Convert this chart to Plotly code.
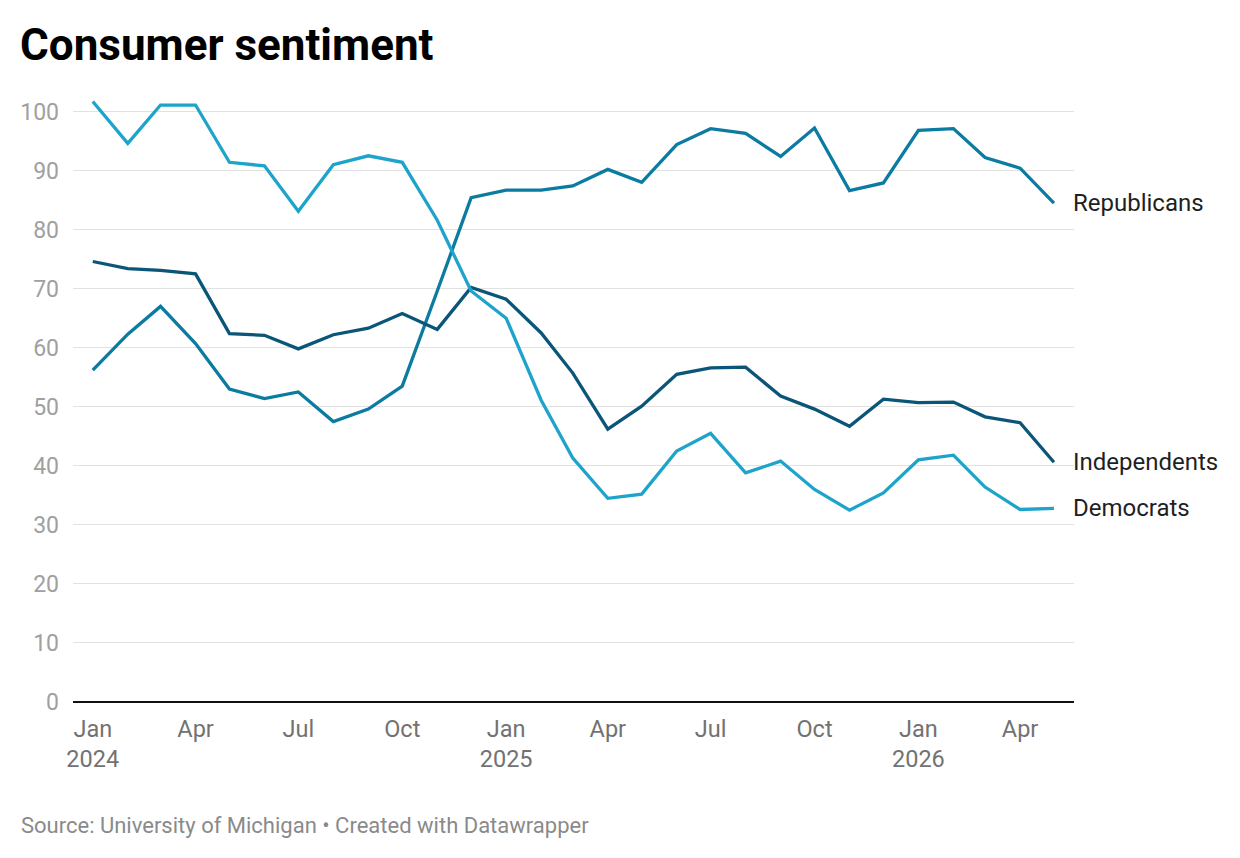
import plotly.graph_objects as go
import pandas as pd

months = pd.date_range("2024-01-01", "2026-05-01", freq="MS").strftime("%Y-%m-%d").tolist()

republicans = [56.2, 62.3, 67.0, 60.7, 53.0, 51.4, 52.5, 47.5, 49.6, 53.5, 69.6, 85.4,
               86.7, 86.7, 87.4, 90.2, 88.0, 94.4, 97.1, 96.3, 92.4, 97.2, 86.6, 87.9,
               96.8, 97.1, 92.2, 90.4, 84.5]
independents = [74.6, 73.4, 73.1, 72.5, 62.4, 62.1, 59.8, 62.2, 63.3, 65.8, 63.1, 70.2,
                68.2, 62.5, 55.7, 46.2, 50.1, 55.5, 56.6, 56.7, 51.8, 49.6, 46.7, 51.3,
                50.7, 50.8, 48.3, 47.3, 40.6]
democrats = [101.7, 94.6, 101.1, 101.1, 91.4, 90.8, 83.1, 91.0, 92.5, 91.4, 81.6, 69.6,
             65.0, 51.1, 41.3, 34.5, 35.2, 42.5, 45.5, 38.8, 40.8, 36.0, 32.5, 35.4,
             41.0, 41.8, 36.4, 32.6, 32.8]

series_names = ["Republicans", "Independents", "Democrats"]
series_values = [republicans, independents, democrats]
series_colors = ["#0b7ba2", "#0a5578", "#1ea3cb"]

x_tick_vals = ["2024-01-01", "2024-04-01", "2024-07-01", "2024-10-01",
               "2025-01-01", "2025-04-01", "2025-07-01", "2025-10-01",
               "2026-01-01", "2026-04-01"]
x_tick_text = ["Jan<br>2024", "Apr", "Jul", "Oct", "Jan<br>2025", "Apr", "Jul", "Oct",
               "Jan<br>2026", "Apr"]
y_tick_vals = list(range(0, 101, 10))

FONT = "Roboto"

fig = go.Figure()
for name, vals, col in zip(series_names, series_values, series_colors):
    fig.add_trace(go.Scatter(x=months, y=vals, mode="lines", name=name,
                             line=dict(color=col, width=3.3), showlegend=False,
                             hoverinfo="x+y"))
    fig.add_annotation(x=months[-1], y=vals[-1], text=name, showarrow=False,
                       xanchor="left", yanchor="middle", xshift=17,
                       font=dict(family=FONT, size=24, color="#1f1f1f"))

fig.update_layout(
    width=1240, height=858,
    margin=dict(l=73, r=166, t=82, b=156),
    paper_bgcolor="white", plot_bgcolor="white",
    font=dict(family=FONT),
    title=dict(text="<b>Consumer sentiment</b>", x=20 / 1240, xref="container", xanchor="left",
               y=1 - 45 / 858, yref="container", yanchor="middle",
               font=dict(family=FONT, size=44, color="#000000")),
)

fig.update_xaxes(
    type="date",
    range=["2023-12-14 12:00", "2026-05-18 18:00"],
    tickvals=x_tick_vals, ticktext=x_tick_text,
    showgrid=False, zeroline=False, showline=False,
    ticks="", ticklabelstandoff=10,
    tickfont=dict(family=FONT, size=23.5, color="#727272"),
)
fig.update_yaxes(
    range=[0, 105],
    tickvals=y_tick_vals,
    showgrid=True, gridcolor="#e2e2e2", gridwidth=1.3,
    zeroline=True, zerolinecolor="#111111", zerolinewidth=2,
    showline=False, ticks="", ticklabelstandoff=13,
    tickfont=dict(family=FONT, size=23, color="#a0a0a0"),
)

fig.add_annotation(xref="paper", yref="paper", x=-54 / 1001, y=-(825 - 702) / 620,
                   xanchor="left", yanchor="middle", showarrow=False,
                   text="Source: University of Michigan • Created with Datawrapper",
                   font=dict(family=FONT, size=22, color="#8a8a8a"))

fig.write_html("out.html")
